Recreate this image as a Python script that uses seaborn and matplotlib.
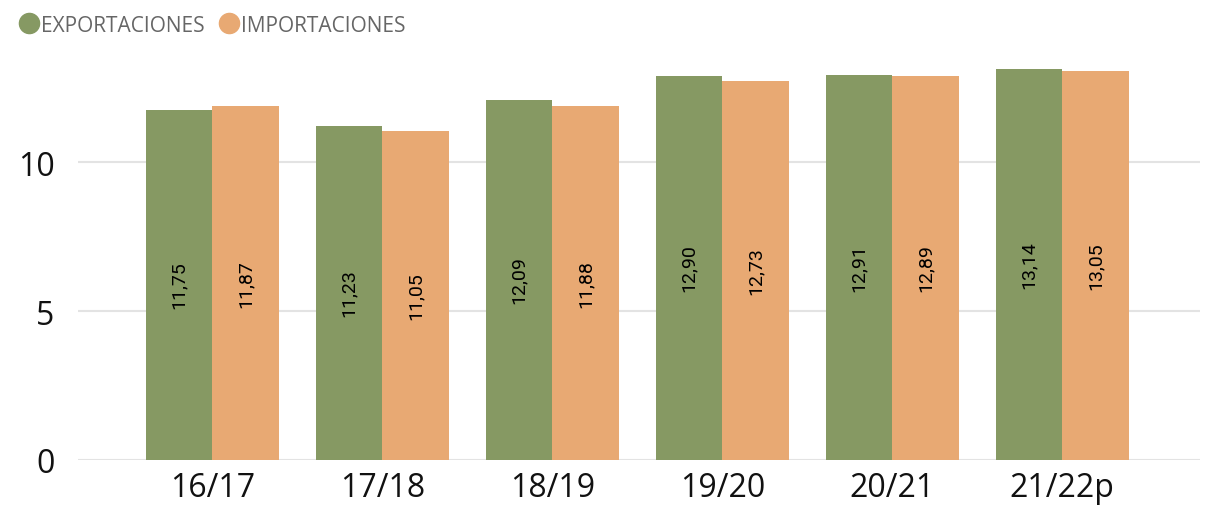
import pandas as pd
import matplotlib.pyplot as plt
import seaborn as sns
from matplotlib.lines import Line2D

# ======================================
# Data
# ======================================

campanas = ["16/17", "17/18", "18/19", "19/20", "20/21", "21/22p"]
exportaciones = [11.75, 11.23, 12.09, 12.90, 12.91, 13.14]
importaciones = [11.87, 11.05, 11.88, 12.73, 12.89, 13.05]
series = ["EXPORTACIONES", "IMPORTACIONES"]
colores = ["#869963", "#E8A973"]

df = pd.DataFrame({
    "campana": campanas * 2,
    "serie": [series[0]] * len(campanas) + [series[1]] * len(campanas),
    "valor": exportaciones + importaciones,
})

# ======================================
# Plot
# ======================================

sns.set_style("white")
plt.rcParams["font.family"] = ["Open Sans", "DejaVu Sans"]

fig = plt.figure(figsize=(12.12, 5.10), dpi=100)
ax = fig.add_axes([78 / 1212, 49 / 510, 1122 / 1212, 417 / 510])

sns.barplot(
    data=df,
    x="campana",
    y="valor",
    hue="serie",
    palette=colores,
    width=0.78,
    saturation=1,
    linewidth=0,
    legend=False,
    ax=ax,
)

ax.set_xlim(-0.79, 5.81)
ax.set_ylim(0, 14)
ax.set_yticks([0, 5, 10])
ax.yaxis.grid(True, color="#E3E3E3", linewidth=1.5)
ax.set_axisbelow(True)
sns.despine(ax=ax, left=True, bottom=True)

ax.set_xlabel("")
ax.set_ylabel("")
ax.tick_params(axis="both", length=0, labelsize=23, colors="#111111")
ax.tick_params(axis="y", pad=17)
ax.tick_params(axis="x", pad=8)

for cont in ax.containers:
    ax.bar_label(
        cont,
        labels=[f"{v:.2f}".replace(".", ",") for v in cont.datavalues],
        label_type="center",
        rotation=90,
        fontsize=14,
        family=["Roboto", "DejaVu Sans"],
        color="black",
        padding=0,
    )
    for txt in ax.texts[-len(cont.datavalues):]:
        x, y = txt.get_position()
        txt.set_y(y + 0.35)

handles = [
    Line2D([0], [0], marker="o", linestyle="", markersize=14.5,
           markerfacecolor=c, markeredgecolor=c)
    for c in colores
]
fig.legend(
    handles,
    series,
    loc="upper left",
    bbox_to_anchor=(0.0, 1.006),
    ncol=2,
    frameon=False,
    fontsize=15,
    labelcolor="#666666",
    handletextpad=0.05,
    columnspacing=0.7,
    handlelength=1.0,
)

plt.savefig("out.png", dpi=100)
plt.close()
